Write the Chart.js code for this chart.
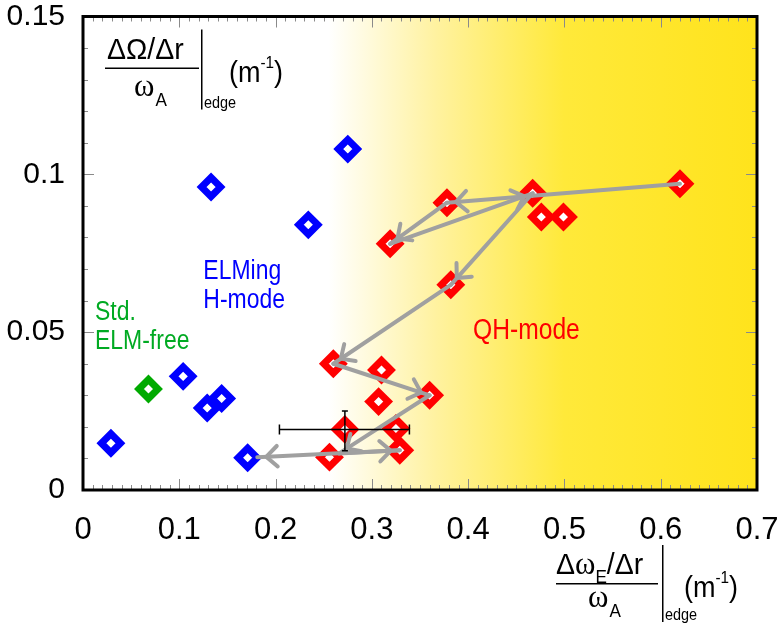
<!DOCTYPE html>
<html>
<head>
<meta charset="utf-8">
<script src="https://cdn.jsdelivr.net/npm/chart.js@4.4.0/dist/chart.umd.min.js"></script>
<style>
  body { margin: 0; background: #fff; }
  #wrap { width: 780px; height: 623px; }
</style>
</head>
<body>
<div id="wrap"><canvas id="myChart" width="780" height="623"></canvas></div>
<script>
// ---- data ----
const blueX = [0.029, 0.104, 0.129, 0.144, 0.171, 0.133, 0.234, 0.275];
const blueY = [0.0148, 0.036, 0.026, 0.029, 0.0102, 0.096, 0.084, 0.108];

const greenX = [0.068];
const greenY = [0.032];

const redX = [0.620, 0.467, 0.476, 0.499, 0.378, 0.319, 0.382, 0.260, 0.310, 0.307, 0.360, 0.272, 0.325, 0.329, 0.256];
const redY = [0.097, 0.094, 0.0865, 0.0865, 0.091, 0.078, 0.065, 0.040, 0.038, 0.028, 0.030, 0.0192, 0.0195, 0.0126, 0.0104];

// time trace drawn as gray arrows
const arrowX = [0.620, 0.378, 0.319, 0.467, 0.382, 0.260, 0.360, 0.266, 0.329, 0.181];
const arrowY = [0.097, 0.091, 0.078, 0.094, 0.065, 0.040, 0.030, 0.0116, 0.0126, 0.0104];

// error bar on one QH point
const errCenter = [0.272, 0.0192];
const errXRange = [0.204, 0.339];
const errYRange = [0.0124, 0.0250];

const xTickVals = [0, 0.1, 0.2, 0.3, 0.4, 0.5, 0.6, 0.7];
const yTickVals = [0, 0.05, 0.1, 0.15];

const notes = [
  { text: 'ELMing', x: 0.125, y: 0.0667, color: '#0000ff', size: 27 },
  { text: 'H-mode', x: 0.125, y: 0.0575, color: '#0000ff', size: 27 },
  { text: 'Std.', x: 0.0125, y: 0.0538, color: '#00aa22', size: 27 },
  { text: 'ELM-free', x: 0.0125, y: 0.0447, color: '#00aa22', size: 27 },
  { text: 'QH-mode', x: 0.405, y: 0.0478, color: '#ff0000', size: 29 }
];

const toPts = (xs, ys) => xs.map((x, i) => ({ x: x, y: ys[i] }));

const bgPlugin = {
  id: 'bg',
  beforeDatasetsDraw(chart) {
    const { ctx, chartArea: a, scales: { x } } = chart;
    const gx = x.getPixelForValue(0.255);
    const g = ctx.createLinearGradient(gx, 0, x.getPixelForValue(0.7), 0);
    g.addColorStop(0, '#ffffff');
    g.addColorStop(0.25, '#fff2a0');
    g.addColorStop(0.55, '#ffe93a');
    g.addColorStop(1, '#ffe31c');
    ctx.save();
    ctx.fillStyle = '#ffffff';
    ctx.fillRect(a.left, a.top, a.right - a.left, a.bottom - a.top);
    ctx.fillStyle = g;
    ctx.fillRect(gx, a.top, a.right - gx, a.bottom - a.top);
    ctx.restore();
  }
};

function drawArrow(ctx, x1, y1, x2, y2) {
  ctx.beginPath();
  ctx.moveTo(x1, y1);
  ctx.lineTo(x2, y2);
  ctx.stroke();
  const ang = Math.atan2(y2 - y1, x2 - x1);
  const tx = x2 - 9 * Math.cos(ang);
  const ty = y2 - 9 * Math.sin(ang);
  const len = 15, spread = 0.75;
  ctx.beginPath();
  ctx.moveTo(tx - len * Math.cos(ang - spread), ty - len * Math.sin(ang - spread));
  ctx.lineTo(tx, ty);
  ctx.lineTo(tx - len * Math.cos(ang + spread), ty - len * Math.sin(ang + spread));
  ctx.stroke();
}

function mixText(ctx, parts, x, y) {
  // parts: [text, font, dy, scaleX]
  let cx = x;
  parts.forEach(p => {
    ctx.save();
    ctx.font = p[1];
    ctx.translate(cx, y + (p[2] || 0));
    const s = p[3] || 1;
    ctx.scale(s, 1);
    ctx.fillText(p[0], 0, 0);
    cx += ctx.measureText(p[0]).width * s;
    ctx.restore();
  });
  return cx;
}

const overlayPlugin = {
  id: 'overlay',
  afterDatasetsDraw(chart) {
    const { ctx, chartArea: a, scales: { x, y } } = chart;
    ctx.save();

    // arrows
    ctx.strokeStyle = '#a0a0a0';
    ctx.lineWidth = 4;
    ctx.lineCap = 'round';
    ctx.lineJoin = 'miter';
    for (let i = 0; i < arrowX.length - 1; i++) {
      drawArrow(ctx,
        x.getPixelForValue(arrowX[i]), y.getPixelForValue(arrowY[i]),
        x.getPixelForValue(arrowX[i + 1]), y.getPixelForValue(arrowY[i + 1]));
    }

    // error bar
    ctx.strokeStyle = '#000';
    ctx.lineWidth = 1.5;
    ctx.lineCap = 'butt';
    const cx = x.getPixelForValue(errCenter[0]), cy = y.getPixelForValue(errCenter[1]);
    const xl = x.getPixelForValue(errXRange[0]), xr = x.getPixelForValue(errXRange[1]);
    const yt = y.getPixelForValue(errYRange[1]), yb = y.getPixelForValue(errYRange[0]);
    ctx.beginPath();
    ctx.moveTo(xl, cy); ctx.lineTo(xr, cy);
    ctx.moveTo(xl, cy - 5); ctx.lineTo(xl, cy + 5);
    ctx.moveTo(xr, cy - 5); ctx.lineTo(xr, cy + 5);
    ctx.moveTo(cx, yt); ctx.lineTo(cx, yb);
    ctx.moveTo(cx - 3, yt); ctx.lineTo(cx + 3, yt);
    ctx.moveTo(cx - 3, yb); ctx.lineTo(cx + 3, yb);
    ctx.stroke();

    // minor / major ticks, inside the frame
    ctx.strokeStyle = '#8a8a8a';
    ctx.lineWidth = 1;
    ctx.beginPath();
    for (let i = 0; i <= 70; i++) {
      const px = Math.round(x.getPixelForValue(i / 100)) + 0.5;
      const L = i % 10 === 0 ? 11 : 5;
      ctx.moveTo(px, a.bottom); ctx.lineTo(px, a.bottom - L);
      ctx.moveTo(px, a.top); ctx.lineTo(px, a.top + L);
    }
    for (let i = 0; i <= 15; i++) {
      const py = Math.round(y.getPixelForValue(i / 100)) + 0.5;
      const L = i % 5 === 0 ? 11 : 5;
      ctx.moveTo(a.left, py); ctx.lineTo(a.left + L, py);
      ctx.moveTo(a.right, py); ctx.lineTo(a.right - L, py);
    }
    ctx.stroke();

    // frame
    ctx.strokeStyle = '#000';
    ctx.lineWidth = 3;
    ctx.strokeRect(a.left, a.top, a.right - a.left, a.bottom - a.top);

    // region labels
    ctx.textBaseline = 'alphabetic';
    notes.forEach(n => {
      ctx.fillStyle = n.color;
      mixText(ctx, [[n.text, n.size + 'px "Liberation Sans"', 0, 0.85]],
        x.getPixelForValue(n.x), y.getPixelForValue(n.y));
    });

    // y axis title (inside plot, top-left)
    const sans = '"Liberation Sans"';
    const serif = '"Liberation Serif"';
    ctx.fillStyle = '#000';
    let ox = a.left, oy = a.top;
    mixText(ctx, [['ΔΩ/Δr', '30px ' + sans, 0, 0.95]], ox + 24, oy + 42);
    ctx.fillRect(ox + 22, oy + 51, 94, 1.5);
    let e = mixText(ctx, [['ω', '31px ' + serif, 0, 1]], ox + 51, oy + 79);
    mixText(ctx, [['A', '19px ' + sans, 10, 0.9]], e + 1, oy + 79);
    ctx.fillRect(ox + 118, oy + 13, 1.5, 80);
    mixText(ctx, [['edge', '17px ' + sans, 0, 0.85]], ox + 121, oy + 91);
    e = mixText(ctx, [['(m', '30px ' + sans, 0, 0.9]], ox + 146, oy + 65);
    e = mixText(ctx, [['-1', '17px ' + sans, -14, 0.9]], e, oy + 65);
    mixText(ctx, [[')', '30px ' + sans, 0, 0.9]], e, oy + 65);

    // x axis title (below axis, right)
    ox = 556; oy = 574;
    e = mixText(ctx, [['Δ', '30px ' + sans, 0, 0.95], ['ω', '31px ' + serif, 0, 1]], ox, oy);
    e = mixText(ctx, [['E', '19px ' + sans, 9, 0.9]], e, oy);
    mixText(ctx, [['/Δr', '30px ' + sans, 0, 0.95]], e, oy);
    ctx.fillRect(ox, oy + 9, 102, 1.5);
    e = mixText(ctx, [['ω', '31px ' + serif, 0, 1]], ox + 32, oy + 33);
    mixText(ctx, [['A', '19px ' + sans, 10, 0.9]], e + 1, oy + 33);
    ctx.fillRect(ox + 106, oy - 29, 1.5, 77);
    mixText(ctx, [['edge', '17px ' + sans, 0, 0.85]], ox + 109, oy + 46);
    e = mixText(ctx, [['(m', '30px ' + sans, 0, 0.9]], ox + 128, oy + 23);
    e = mixText(ctx, [['-1', '17px ' + sans, -14, 0.9]], e, oy + 23);
    mixText(ctx, [[')', '30px ' + sans, 0, 0.9]], e, oy + 23);

    ctx.restore();
  }
};

const marker = (color, xs, ys) => ({
  data: toPts(xs, ys),
  pointStyle: 'rectRot',
  pointRadius: 9.5,
  pointHoverRadius: 9.5,
  borderWidth: 7,
  pointBorderColor: color,
  pointBackgroundColor: '#ffffff',
  borderColor: color,
  backgroundColor: '#ffffff',
  showLine: false
});

const config = {
  type: 'scatter',
  data: {
    datasets: [
      marker('#ff0000', redX, redY),
      marker('#0000ff', blueX, blueY),
      marker('#00aa00', greenX, greenY)
    ]
  },
  options: {
    responsive: false,
    animation: false,
    events: [],
    layout: { padding: { top: 13, right: 23, left: 0, bottom: 0 } },
    plugins: { legend: { display: false }, tooltip: { enabled: false } },
    scales: {
      x: {
        type: 'linear', min: 0, max: 0.7,
        grid: { display: false },
        border: { display: false },
        afterBuildTicks: s => { s.ticks = xTickVals.map(v => ({ value: v })); },
        afterFit: s => { s.height = 133; s.paddingLeft = 0; s.paddingRight = 0; },
        ticks: {
          padding: 14, color: '#000',
          font: { family: 'Liberation Sans', size: 31 },
          callback: v => String(v)
        }
      },
      y: {
        type: 'linear', min: 0, max: 0.15,
        grid: { display: false },
        border: { display: false },
        afterBuildTicks: s => { s.ticks = yTickVals.map(v => ({ value: v })); },
        afterFit: s => { s.width = 83; s.paddingTop = 0; s.paddingBottom = 0; },
        ticks: {
          padding: 10, color: '#000',
          font: { family: 'Liberation Sans', size: 30 },
          callback: v => String(v)
        }
      }
    }
  },
  plugins: [bgPlugin, overlayPlugin]
};

const myChart = new Chart(document.getElementById('myChart'), config);
</script>
</body>
</html>
